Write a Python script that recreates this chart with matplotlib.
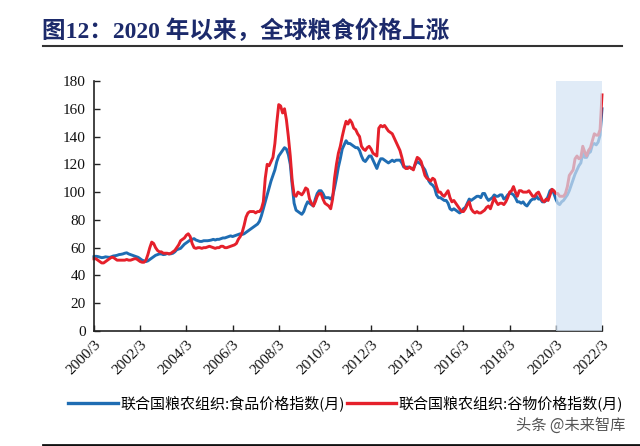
import numpy as np
import matplotlib.pyplot as plt
from matplotlib.lines import Line2D

# monthly values, 2000/3 ... 2022/3
food_index = [
    53.5, 53.8, 53.6, 53.2, 52.8, 53.0, 53.4, 53.2, 53.0, 53.4,                # 2000 (Mar-Dec)
    54.0, 54.2, 54.5, 55.0, 55.2, 55.5, 56.0, 56.3, 55.5, 55.0, 54.5, 54.0,    # 2001
    53.5, 53.0, 52.0, 51.0, 50.5, 50.0, 50.5, 51.5, 52.5, 53.5, 54.5, 55.0,    # 2002
    55.5, 55.5, 55.0, 55.2, 55.8, 55.5, 55.6, 56.0, 57.0, 58.5, 59.0, 59.5,    # 2003
    61.0, 62.5, 63.5, 64.5, 65.5, 66.0, 66.5, 65.5, 65.0, 64.5, 64.5, 65.0,    # 2004
    65.0, 65.0, 65.2, 65.5, 66.0, 65.5, 66.0, 66.0, 66.5, 67.0, 67.0, 67.5,    # 2005
    68.0, 68.5, 68.0, 68.5, 69.0, 69.5, 70.0, 69.5, 70.0, 71.0, 72.0, 73.0,    # 2006
    74, 75, 76, 77, 79, 83, 88, 93, 98, 103, 108, 112,                         # 2007
    116, 122, 126, 128, 130, 132, 131, 127, 120, 105, 92, 87,                  # 2008
    86, 85, 84, 86, 90, 93, 92, 91, 90, 95, 99, 101,                           # 2009
    101, 99, 96, 96, 96, 95, 97, 103, 110, 118, 124, 131,                      # 2010
    134, 137, 135, 135, 134, 133, 132, 132, 130, 126, 123, 122,                # 2011
    124, 126, 126, 123, 120, 117, 121, 124, 124, 123, 122, 121,                # 2012
    122, 123, 122, 123, 123, 123, 121, 118, 118, 118, 118, 117,                # 2013
    117, 120, 122, 121, 120, 118, 116, 112, 108, 106, 105, 103,                # 2014
    98, 96, 96, 95, 94, 94, 92, 88, 87, 88, 87, 86,                            # 2015
    85, 86, 88, 89, 92, 95, 94, 95, 96, 97, 97, 96,                            # 2016
    99, 99, 96, 94, 95, 96, 98, 97, 97, 98, 98, 95,                            # 2017
    96, 98, 99, 99, 98, 96, 93, 93, 92, 93, 91, 90,                            # 2018
    92, 94, 95, 95, 97, 95, 95, 93, 93, 94, 97, 101,                           # 2019
    102, 99, 95, 92, 91, 93, 94, 96, 98, 101, 105, 109,                        # 2020
    113, 116, 119, 121, 128, 125, 125, 128, 129, 134, 135, 134,                # 2021
    136, 141, 160,                                                             # 2022 (Jan-Mar)
]

cereal_index = [
    52, 52, 51, 50, 49, 49, 50, 51, 52, 53,                                    # 2000 (Mar-Dec)
    53, 52, 51, 51, 51, 51, 51, 51.5, 51, 51, 51.5, 52,                        # 2001
    52, 51, 50, 49.5, 49.5, 51, 55, 60, 64, 63, 60, 58,                        # 2002
    57, 57, 56, 56, 56, 55.5, 56, 57, 58, 60, 62, 65,                          # 2003
    66, 67, 69, 70, 68, 63, 60, 59.5, 60, 60, 59.5, 60,                        # 2004
    60, 60.5, 61, 60.5, 60, 59.5, 60, 60, 61, 61, 60, 60,                      # 2005
    60.5, 61, 61.5, 62, 63, 66, 68, 71, 76, 82, 85, 86,                        # 2006
    86, 86, 85, 86, 86, 88, 93, 110, 120, 119, 122, 125,                       # 2007
    135, 150, 163, 162, 157, 160, 152, 140, 126, 108, 98, 97,                  # 2008
    100, 99, 98, 100, 103, 102, 95, 92, 90, 93, 97, 99,                        # 2009
    99, 95, 92, 91, 90, 88, 95, 110, 120, 128, 133, 140,                       # 2010
    146, 151, 149, 152, 150, 146, 145, 142, 140, 133, 131, 130,                # 2011
    132, 133, 131, 128, 127, 126, 146, 148, 147, 148, 146, 144,                # 2012
    143, 142, 139, 136, 133, 130, 125, 119, 117, 117, 118, 117,                # 2013
    116, 121, 125, 124, 122, 117, 112, 110, 109, 108, 110, 109,                # 2014
    104, 100, 100, 98, 97, 99, 101, 96, 93, 94, 92, 90,                        # 2015
    88, 86, 86, 88, 91, 93, 88, 86, 85, 86, 85, 85,                            # 2016
    86, 87, 89, 90, 88, 92, 96, 93, 91, 92, 92, 91,                            # 2017
    93, 96, 100, 101, 104, 100, 97, 101, 101, 100, 100, 100,                   # 2018
    101, 99, 97, 97, 99, 100, 97, 94, 93, 95, 94, 98,                          # 2019
    102, 101, 99, 99, 97, 97, 97, 99, 104, 112, 114, 116,                      # 2020
    124, 126, 124, 125, 133, 129, 126, 130, 132, 137, 142, 141,                # 2021
    141, 145, 170,                                                             # 2022 (Jan-Mar)
]

tick_labels = ['2000/3', '2002/3', '2004/3', '2006/3', '2008/3', '2010/3',
               '2012/3', '2014/3', '2016/3', '2018/3', '2020/3', '2022/3']
yticks = [0, 20, 40, 60, 80, 100, 120, 140, 160, 180]
shade_start = '2020/3'
legend_labels = ['联合国粮农组织:食品价格指数(月)', '联合国粮农组织:谷物价格指数(月)']

months = np.arange(len(food_index))
tick_pos = np.arange(len(tick_labels)) * 24

plt.rcParams['font.family'] = ['Liberation Serif', 'Noto Sans CJK SC']

fig = plt.figure(figsize=(6.4, 4.46), dpi=100)
ax = fig.add_axes([94 / 640, 1 - 331 / 446, 508 / 640, 250 / 446])

blue = '#1f6db3'
red = '#e5202b'
ax.plot(months, food_index, color=blue, lw=2.1, zorder=2, clip_on=False)
ax.plot(months, cereal_index, color=red, lw=2.1, zorder=2, clip_on=False)

x0 = tick_pos[tick_labels.index(shade_start)]
ax.axvspan(x0, months[-1], color='#d3e3f4', alpha=0.7, lw=0, zorder=3)

ax.set_xlim(0, months[-1])
ax.set_ylim(0, 180)
ax.set_yticks(yticks)
ax.set_xticks(tick_pos)
ax.set_xticklabels(tick_labels, rotation=45, ha='right', rotation_mode='anchor')
ax.tick_params(axis='both', direction='in', length=4, width=1, colors='#222222',
               labelsize=11, labelcolor='#111111')
ax.tick_params(axis='x', pad=5)
ax.tick_params(axis='y', pad=6)
for s in ['top', 'right']:
    ax.spines[s].set_visible(False)
for s in ['left', 'bottom']:
    ax.spines[s].set_color('#222222')
    ax.spines[s].set_linewidth(1.2)

handles = [Line2D([], [], color=blue, lw=2.4), Line2D([], [], color=red, lw=2.4)]
fig.legend(handles, legend_labels, loc='center', bbox_to_anchor=(0.54, 1 - 403 / 446),
           ncol=2, frameon=False, handlelength=3.3, handletextpad=0.15,
           columnspacing=0.15, prop={'family': ['Noto Sans CJK SC'], 'size': 10.8})

fig.text(42 / 640, 1 - 31 / 446, '图12：2020 年以来，全球粮食价格上涨',
         fontsize=17, fontweight='bold', color='#1c2a6b', va='center', ha='left',
         family=['Liberation Serif', 'Noto Sans CJK SC'])
fig.add_artist(Line2D([43 / 640, 622 / 640], [1 - 46 / 446] * 2, color='#333333', lw=1.5))
fig.add_artist(Line2D([43 / 640, 640 / 640], [1 - 445 / 446] * 2, color='#111111', lw=2))

fig.text(625 / 640, 1 - 425 / 446, '头条 @未来智库', fontsize=11, color='#555555',
         ha='right', va='center', family=['Noto Sans CJK SC'])

fig.savefig('out.png', dpi=100)
